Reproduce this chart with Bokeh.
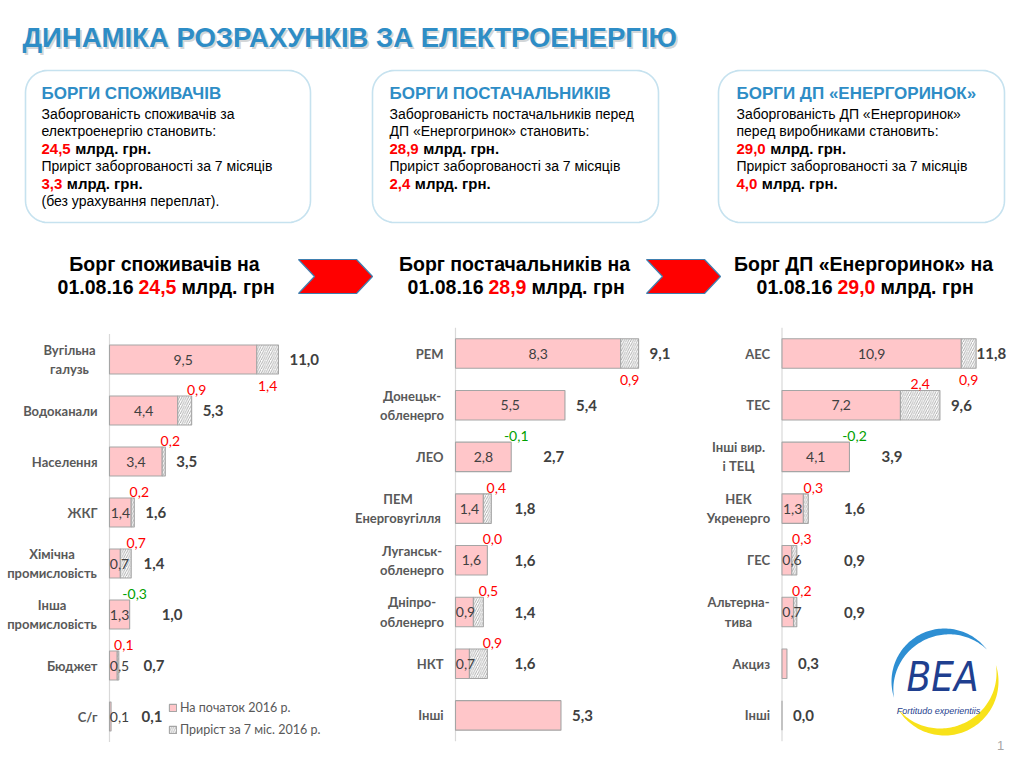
import numpy as np
from bokeh.plotting import figure
from bokeh.models import Range1d, Legend, LegendItem
from bokeh.core.properties import value
from bokeh.embed import file_html
from bokeh.resources import INLINE

# ------------------------------------------------------------------ data
page_title = "ДИНАМІКА РОЗРАХУНКІВ ЗА ЕЛЕКТРОЕНЕРГІЮ"
box_titles = ["БОРГИ СПОЖИВАЧІВ", "БОРГИ ПОСТАЧАЛЬНИКІВ", "БОРГИ ДП «ЕНЕРГОРИНОК»"]
box_intro = [["Заборгованість споживачів за", "електроенергію становить:"],
             ["Заборгованість постачальників перед", "ДП «Енергогринок» становить:"],
             ["Заборгованість ДП «Енергоринок»", "перед виробниками становить:"]]
debt_total = [24.5, 28.9, 29.0]
debt_growth = [3.3, 2.4, 4.0]
growth_text = "Приріст заборгованості за 7 місяців"
unit_box = "млрд. грн."
box_note = ["(без урахування переплат).", "", ""]
head_line1 = ["Борг споживачів на", "Борг постачальників на", "Борг ДП «Енергоринок» на"]
head_date = "01.08.16"
unit_head = "млрд. грн"

c1_cats = ["Вугільна\nгалузь", "Водоканали", "Населення", "ЖКГ",
           "Хімічна\nпромисловість", "Інша\nпромисловість", "Бюджет", "С/г"]
c1_start = [9.5, 4.4, 3.4, 1.4, 0.7, 1.3, 0.5, 0.1]
c1_incr = [1.4, 0.9, 0.2, 0.2, 0.7, -0.3, 0.1, None]
c1_total = [11.0, 5.3, 3.5, 1.6, 1.4, 1.0, 0.7, 0.1]
c1_inner = [True, True, True, True, True, True, True, True]

c2_cats = ["РЕМ", "Донецьк-\nобленерго", "ЛЕО", "ПЕМ\nЕнерговугілля",
           "Луганськ-\nобленерго", "Дніпро-\nобленерго", "НКТ", "Інші"]
c2_start = [8.3, 5.5, 2.8, 1.4, 1.6, 0.9, 0.7, 5.3]
c2_incr = [0.9, None, -0.1, 0.4, 0.0, 0.5, 0.9, None]
c2_total = [9.1, 5.4, 2.7, 1.8, 1.6, 1.4, 1.6, 5.3]
c2_inner = [True, True, True, True, True, True, True, False]

c3_cats = ["АЕС", "ТЕС", "Інші вир.\nі ТЕЦ", "НЕК\nУкренерго",
           "ГЕС", "Альтерна-\nтива", "Акциз", "Інші"]
c3_start = [10.9, 7.2, 4.1, 1.3, 0.6, 0.7, 0.3, 0.0]
c3_incr = [0.9, 2.4, -0.2, 0.3, 0.3, 0.2, None, None]
c3_total = [11.8, 9.6, 3.9, 1.6, 0.9, 0.9, 0.3, 0.0]
c3_inner = [True, True, True, True, True, True, False, False]

legend_labels = ["На початок 2016 р.", "Приріст за 7 міс. 2016 р."]
logo_text = "BEA"
logo_motto = "Fortitudo experientiis"
page_number = "1"

# ------------------------------------------------------------------ styles
BLUE = "#2E8DC6"
RED = "#FF0000"
GREEN = "#00A000"
PINK = "#FFC6C9"
BAR_LINE = "#A5A5A5"
DARK = "#404040"
CAT = "#595959"
ARIAL = value("Liberation Sans")
LATO = value("Lato")
W, H = 1008, 752


def fmt(v):
    return f"{v:.1f}".replace(".", ",")


def num_w(s, fs):
    return sum(0.556 if ch.isdigit() else 0.278 for ch in s) * fs


p = figure(width=W, height=H, output_backend="svg", toolbar_location=None,
           x_range=Range1d(0, W), y_range=Range1d(H, 0),
           x_axis_location=None, y_axis_location=None, min_border=0)
p.grid.visible = False
p.outline_line_color = None
p.background_fill_color = "white"
p.border_fill_color = "white"

# ------------------------------------------------------------------ title
p.text(x=[24], y=[39], text=[page_title], text_font=ARIAL, text_font_style="bold",
       text_font_size="27.5px", text_color="#7f8a90", text_alpha=0.35,
       text_baseline="middle", text_align="left")
p.text(x=[22], y=[37], text=[page_title], text_font=ARIAL, text_font_style="bold",
       text_font_size="27.5px", text_color=BLUE, text_baseline="middle", text_align="left")


# ------------------------------------------------------------------ boxes
def rrect(x0, y0, x1, y1, r, n=14):
    xs, ys = [], []
    for cx, cy, a1, a2 in [(x1 - r, y0 + r, -90, 0), (x1 - r, y1 - r, 0, 90),
                           (x0 + r, y1 - r, 90, 180), (x0 + r, y0 + r, 180, 270)]:
        a = np.radians(np.linspace(a1, a2, n))
        xs += list(cx + r * np.cos(a))
        ys += list(cy + r * np.sin(a))
    return xs, ys


box_x = [(25, 310), (372, 658), (718, 1004)]
text_x = [41, 389, 736]
for k in range(3):
    xs, ys = rrect(box_x[k][0], 70, box_x[k][1], 222, 22)
    p.patch(xs, ys, fill_color="white", line_color="#C6E2EF", line_width=1.6)
    x0 = text_x[k]
    p.text(x=[x0], y=[93], text=[box_titles[k]], text_font=ARIAL, text_font_style="bold",
           text_font_size="17px", text_color=BLUE, text_baseline="middle")
    p.text(x=[x0, x0, x0], y=[113, 130.5, 165.5],
           text=[box_intro[k][0], box_intro[k][1], growth_text],
           text_font=ARIAL, text_font_size="14px", text_color="black", text_baseline="middle")
    for yy, v in [(148, debt_total[k]), (183, debt_growth[k])]:
        s = fmt(v)
        p.text(x=[x0], y=[yy], text=[s], text_font=ARIAL, text_font_style="bold",
               text_font_size="15px", text_color=RED, text_baseline="middle")
        p.text(x=[x0 + num_w(s, 15) + 4.5], y=[yy], text=[unit_box], text_font=ARIAL,
               text_font_style="bold", text_font_size="15px", text_color="black",
               text_baseline="middle")
    if box_note[k]:
        p.text(x=[x0], y=[200.5], text=[box_note[k]], text_font=ARIAL, text_font_size="14px",
               text_color="black", text_baseline="middle")

# ------------------------------------------------------------------ headings + chevrons
head_cx = [164, 514, 863]
for k in range(3):
    cx = head_cx[k]
    p.text(x=[cx], y=[263], text=[head_line1[k]], text_font=ARIAL, text_font_style="bold",
           text_font_size="19.5px", text_color="black", text_align="center", text_baseline="middle")
    s = fmt(debt_total[k])
    red_left = cx - 26
    p.text(x=[red_left - 5], y=[286], text=[head_date], text_font=ARIAL, text_font_style="bold",
           text_font_size="19.5px", text_color="black", text_align="right", text_baseline="middle")
    p.text(x=[red_left], y=[286], text=[s], text_font=ARIAL, text_font_style="bold",
           text_font_size="19.5px", text_color=RED, text_align="left", text_baseline="middle")
    p.text(x=[red_left + num_w(s, 19.5) + 5], y=[286], text=[unit_head], text_font=ARIAL,
           text_font_style="bold", text_font_size="19.5px", text_color="black",
           text_align="left", text_baseline="middle")

chev_x = [0, 58, 74, 58, 0, 16]
chev_y = [259, 259, 276, 293, 293, 276]
for ox in (298, 646):
    p.patch([ox + v for v in chev_x], chev_y, fill_color="#FF0000",
            line_color="#3F7FAF", line_width=1.2)

# ------------------------------------------------------------------ charts
charts = [
    dict(key="c1", cats=c1_cats, start=c1_start, incr=c1_incr, total=c1_total, inner=c1_inner,
         X0=109, s=15.5, Y0=359, d=51.0, min_px=34),
    dict(key="c2", cats=c2_cats, start=c2_start, incr=c2_incr, total=c2_total, inner=c2_inner,
         X0=455, s=19.9, Y0=353, d=51.7, min_px=59),
    dict(key="c3", cats=c3_cats, start=c3_start, incr=c3_incr, total=c3_total, inner=c3_inner,
         X0=781.5, s=16.45, Y0=353, d=51.7, min_px=62),
]

xr_map, yr_map = {}, {}
for c in charts:
    xr_map[c["key"] + "x"] = Range1d((0 - c["X0"]) / c["s"], (W - c["X0"]) / c["s"])
    yr_map[c["key"] + "y"] = Range1d((H - c["Y0"]) / c["d"], (0 - c["Y0"]) / c["d"])
p.extra_x_ranges = xr_map
p.extra_y_ranges = yr_map

CAT_STYLE = dict(text_baseline="middle", text_font=LATO, text_font_style="bold",
                 text_font_size="13px", text_color=CAT, text_line_height=1.2)

legend_renderers = None
for c in charts:
    rn = dict(x_range_name=c["key"] + "x", y_range_name=c["key"] + "y")
    s = c["s"]
    n = len(c["cats"])
    idx = list(range(n))
    start, incr, inner = c["start"], c["incr"], c["inner"]

    # axis line
    p.segment(x0=[0], y0=[-0.5], x1=[0], y1=[n - 0.5], line_color="#D9D9D9", line_width=1.2, **rn)

    # base bars
    r_pink = p.hbar(y=idx, left=0, right=start, height=0.57, fill_color=PINK,
                    line_color=BAR_LINE, line_width=1.1, **rn)
    # growth bars (hatched)
    hy, hl, hr = [], [], []
    for i in idx:
        if incr[i] is not None and incr[i] > 0:
            hy.append(i)
            hl.append(start[i])
            hr.append(start[i] + incr[i])
    r_hatch = p.hbar(y=hy, left=hl, right=hr, height=0.57, fill_color="white",
                     line_color=BAR_LINE, line_width=1.1, hatch_pattern="/",
                     hatch_color="#8C8C8C", hatch_scale=4.5, hatch_weight=0.7, **rn)
    if legend_renderers is None:
        legend_renderers = (r_pink, r_hatch)

    # category labels: single-line right aligned, multi-line centred block
    single = [i for i in idx if "\n" not in c["cats"][i]]
    multi = [i for i in idx if "\n" in c["cats"][i]]
    p.text(x=[0] * len(single), y=single, text=[c["cats"][i] for i in single],
           x_offset=-12, text_align="right", **CAT_STYLE, **rn)
    mo = [-12 - 3.5 * max(len(t) for t in c["cats"][i].split("\n")) for i in multi]
    p.text(x=[0] * len(multi), y=multi, text=[c["cats"][i] for i in multi],
           x_offset=mo, text_align="center", **CAT_STYLE, **rn)

    # inner labels
    ix = [max(start[i] / 2, 10 / s) for i in idx if inner[i]]
    iy = [i for i in idx if inner[i]]
    it = [fmt(start[i]) for i in idx if inner[i]]
    p.text(x=ix, y=iy, text=it, text_align="center", text_baseline="middle",
           text_font=LATO, text_font_size="14px", text_color=DARK, **rn)

    # growth labels
    gx, gy, gt, gc, gxo, gyo = [], [], [], [], [], []
    for i in idx:
        inc = incr[i]
        if inc is None:
            continue
        if i == 0 or max(inc, 0) * s >= 30:
            gx.append(start[i] + inc / 2)
            gxo.append(0)
        else:
            gx.append(start[i] + max(inc, 0))
            gxo.append(5)
        gy.append(i)
        gyo.append(26 if i == 0 else -21)
        gt.append(fmt(inc))
        gc.append(RED if inc >= 0 else GREEN)
    p.text(x=gx, y=gy, text=gt, x_offset=gxo, y_offset=gyo, text_color=gc,
           text_align="center", text_baseline="middle", text_font=LATO,
           text_font_size="14px", **rn)

    # total labels
    tx = []
    for i in idx:
        inc = incr[i]
        end_px = (start[i] + max(inc or 0, 0)) * s
        gap = 32 if (inc is not None and inc < 0) else 11
        xpx = end_px + gap
        if inc is not None:
            xpx = max(xpx, c["min_px"])
        if inner[i]:
            xpx = max(xpx, max(start[i] * s / 2, 10) + 22)
        xpx = min(xpx, W - c["X0"] - 32)
        tx.append(xpx / s)
    p.text(x=tx, y=idx, text=[fmt(v) for v in c["total"]], text_align="left",
           text_baseline="middle", text_font=LATO, text_font_style="bold",
           text_font_size="15px", text_color=DARK, **rn)

legend = Legend(items=[LegendItem(label=legend_labels[0], renderers=[legend_renderers[0]]),
                       LegendItem(label=legend_labels[1], renderers=[legend_renderers[1]])],
                location=(168, 13), orientation="vertical", padding=0, margin=0, spacing=3,
                glyph_width=9, glyph_height=9, label_height=19, label_standoff=3,
                label_text_font="Lato", label_text_font_size="12.5px", label_text_color=CAT,
                border_line_color=None, background_fill_alpha=0)
p.add_layout(legend)

# ------------------------------------------------------------------ logo
LX, LY, LR = 944, 681, 53


def crescent(a1, a2, R, t, n=80):
    th = np.radians(np.linspace(a1, a2, n))
    w = t * np.sin(np.pi * np.linspace(0, 1, n))
    xo = LX + R * np.cos(th)
    yo = LY - R * np.sin(th)
    xi = LX + (R - w) * np.cos(th)
    yi = LY - (R - w) * np.sin(th)
    return list(xo) + list(xi[::-1]), list(yo) + list(yi[::-1])


bx, by = crescent(37, 198, LR, 7)
p.patch(bx, by, fill_color="#2E8FD3", line_color=None)
yx, yy = crescent(-150, 18, LR + 1, 8)
p.patch(yx, yy, fill_color="#F8E21A", line_color=None)
p.text(x=[942], y=[676], text=[logo_text],
       text_font=value("Liberation Sans Narrow, DejaVu Sans Condensed, Liberation Sans"),
       text_font_style="italic", text_font_size="40px", text_color="#1F3F8F",
       text_align="center", text_baseline="middle")
p.text(x=[938], y=[710], text=[logo_motto], text_font=ARIAL, text_font_style="italic",
       text_font_size="9px", text_color="#1F3F8F", text_align="center", text_baseline="middle")

p.text(x=[1000], y=[745], text=[page_number], text_font=ARIAL, text_font_size="13px",
       text_color="#A6A6A6", text_align="center", text_baseline="middle")

open("out.html", "w").write(file_html(p, INLINE))
